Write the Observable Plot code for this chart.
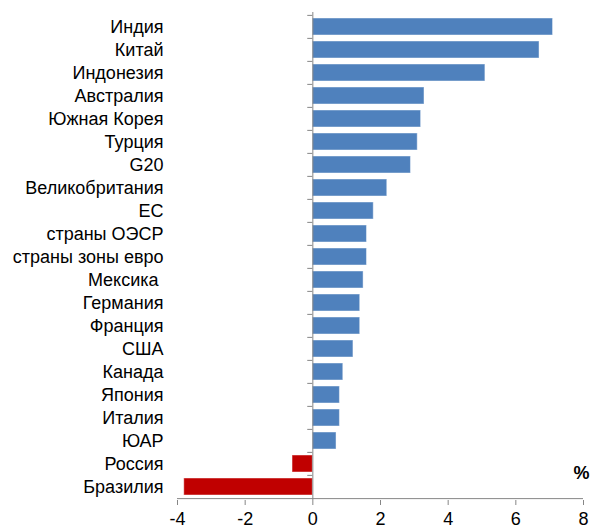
<!DOCTYPE html>
<html>
<head>
<meta charset="utf-8">
<script src="https://cdn.jsdelivr.net/npm/d3@7"></script>
<script src="https://cdn.jsdelivr.net/npm/@observablehq/plot@0.6"></script>
<style>
  html, body { margin: 0; padding: 0; background: #fff; }
</style>
</head>
<body>
<div id="chart"></div>
<script>
const countries = ["Индия", "Китай", "Индонезия", "Австралия", "Южная Корея", "Турция", "G20",
  "Великобритания", "ЕС", "страны ОЭСР", "страны зоны евро", "Мексика\u00a0", "Германия", "Франция",
  "США", "Канада", "Япония", "Италия", "ЮАР", "Россия", "Бразилия"];
const growth = [7.1, 6.7, 5.1, 3.3, 3.2, 3.1, 2.9, 2.2, 1.8, 1.6, 1.6, 1.5, 1.4, 1.4, 1.2, 0.9, 0.8, 0.8, 0.7, -0.6, -3.8];
const xTicks = [-4, -2, 0, 2, 4, 6, 8];
const unitLabel = "%";

const data = countries.map((c, i) => ({country: c, value: growth[i]}));
const half = (530 - 12 - 30) / countries.length / 2;

const chart = Plot.plot({
  width: 590,
  height: 530,
  marginLeft: 177,
  marginRight: 7,
  marginTop: 12,
  marginBottom: 30,
  style: {fontFamily: "'Liberation Sans', Arial, sans-serif", fontSize: "18px", color: "#000", background: "#fff"},
  x: {domain: [-4, 8], ticks: xTicks, tickFormat: d => `${d}`, label: null},
  y: {domain: countries, paddingInner: 0.27, paddingOuter: 0.135, label: null},
  marks: [
    Plot.barX(data, {
      x: "value", y: "country",
      fill: d => d.value < 0 ? "#C00000" : "#4F81BD",
      stroke: "#ffffff", strokeOpacity: 0.45, strokeWidth: 1
    }),
    Plot.ruleY(countries, {y: d => d, x1: -0.15, x2: 0, dy: -half, stroke: "#868686", strokeWidth: 1}),
    Plot.ruleX([0], {stroke: "#868686", strokeWidth: 1}),
    Plot.ruleY([countries[countries.length - 1]], {y: d => d, x1: -4, x2: 8, dy: half, stroke: "#868686", strokeWidth: 1}),
    Plot.axisX({anchor: "bottom", ticks: xTicks, tickFormat: d => `${d}`, tickSize: 5, tickPadding: 7, stroke: "#868686", fill: "#000", fontSize: 18, label: null}),
    Plot.axisY({anchor: "left", tickSize: 0, tickPadding: 14, fill: "#000", fontSize: 18, label: null}),
    Plot.text([unitLabel], {frameAnchor: "bottom-right", dx: 6, dy: -22, textAnchor: "end", fontSize: 18, fill: "#000", fontWeight: "bold"})
  ]
});
document.getElementById("chart").appendChild(chart);
</script>
</body>
</html>
